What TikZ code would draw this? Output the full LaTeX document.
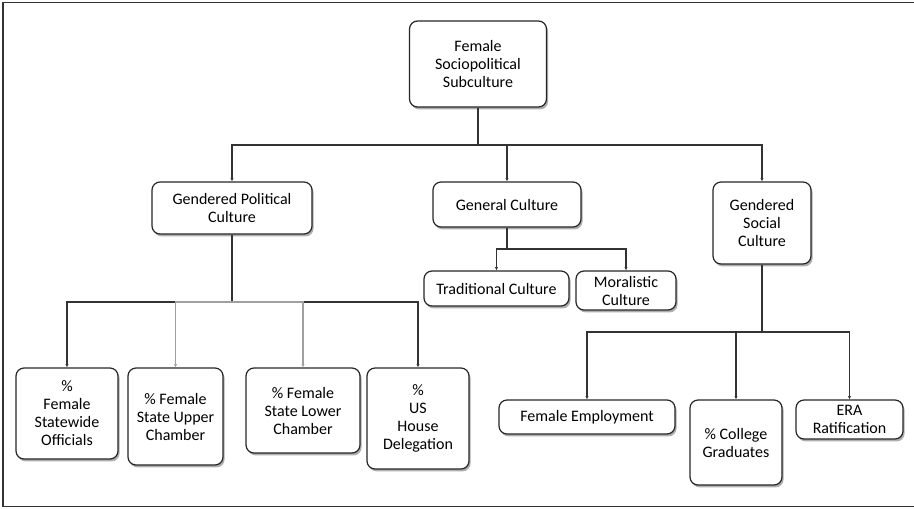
\documentclass[tikz,border=0pt]{standalone}
\usepackage{fontspec}
\setmainfont{Carlito}
\usetikzlibrary{shadows,arrows.meta}
\definecolor{linedark}{HTML}{333333}
\definecolor{linegray}{HTML}{A0A0A0}
\tikzset{
  box/.style={draw=black!85, line width=0.9pt, rounded corners=6pt, fill=white, align=center,
    inner sep=0pt, font=\fontsize{12}{13.5}\selectfont,
    drop shadow={shadow xshift=1.2pt, shadow yshift=-1.8pt, opacity=0.45, fill=black!70}},
  sz/.style 2 args={minimum width=#1*0.75pt, minimum height=#2*0.75pt},
  conn/.style={draw=linedark, line width=0.9pt},
  link/.style={conn, -{Latex[length=2.5pt,width=2.5pt]}},
  glink/.style={link, draw=linegray}
}
\begin{document}
\begin{tikzpicture}[x=0.75pt, y=-0.75pt]
    \useasboundingbox (0,0) rectangle (914,508);
    % Frame
    \draw[line width=1.2pt, black!80] (3,2.5) rectangle (916,506.5);

    % Top level
    \node[box, sz={137}{86}] (top) at (478,64) {Female\\Sociopolitical\\Subculture};

    % Second level
    \node[box, sz={160}{52}] (gpc) at (232,208) {Gendered Political\\Culture};
    \node[box, sz={148}{45}] (gen) at (507,204.5) {General Culture};
    \node[box, sz={98}{82}] (gsc) at (762,223) {Gendered\\Social\\Culture};

    % General culture branch
    \node[box, sz={145}{35}] (trad) at (496.5,288.5) {Traditional Culture};
    \node[box, sz={100}{39}] (moral) at (626,290.5) {Moralistic\\Culture};

    % Political culture branch
    \node[box, sz={102}{91}] (stw) at (67,413.5) {\%\\Female\\Statewide\\Officials};
    \node[box, sz={95}{97}] (upper) at (175.5,416.5) {\% Female\\State Upper\\Chamber};
    \node[box, sz={114}{85}] (lower) at (303,410.5) {\% Female\\State Lower\\Chamber};
    \node[box, sz={102}{101}] (house) at (418,418.5) {\%\\US\\House\\Delegation};

    % Social culture branch
    \node[box, sz={176}{34}] (emp) at (587,417) {Female Employment};
    \node[box, sz={92}{85}] (coll) at (736,442.5) {\% College\\Graduates};
    \node[box, sz={107}{39}] (era) at (849.5,419.5) {ERA\\Ratification};

    % Junctions
    \coordinate (j0) at (478,145);
    \coordinate (j1) at (232,302);
    \coordinate (j2) at (507,249);
    \coordinate (j3) at (762,332);

    % Connectors
    \draw[conn] (top.south) -- (j0);
    \foreach \n in {gpc,gen,gsc} \draw[link] (j0) -| (\n.north);
    \draw[conn] (gpc.south) -- (j1);
    \foreach \n in {stw,house} \draw[link] (j1) -| (\n.north);
    \foreach \n in {upper,lower} \draw[glink] (j1) -| (\n.north);
    \draw[conn] (gen.south) -- (j2);
    \foreach \n in {trad,moral} \draw[link] (j2) -| (\n.north);
    \draw[conn] (gsc.south) -- (j3);
    \foreach \n in {emp,coll,era} \draw[link] (j3) -| (\n.north);
\end{tikzpicture}
\end{document}
